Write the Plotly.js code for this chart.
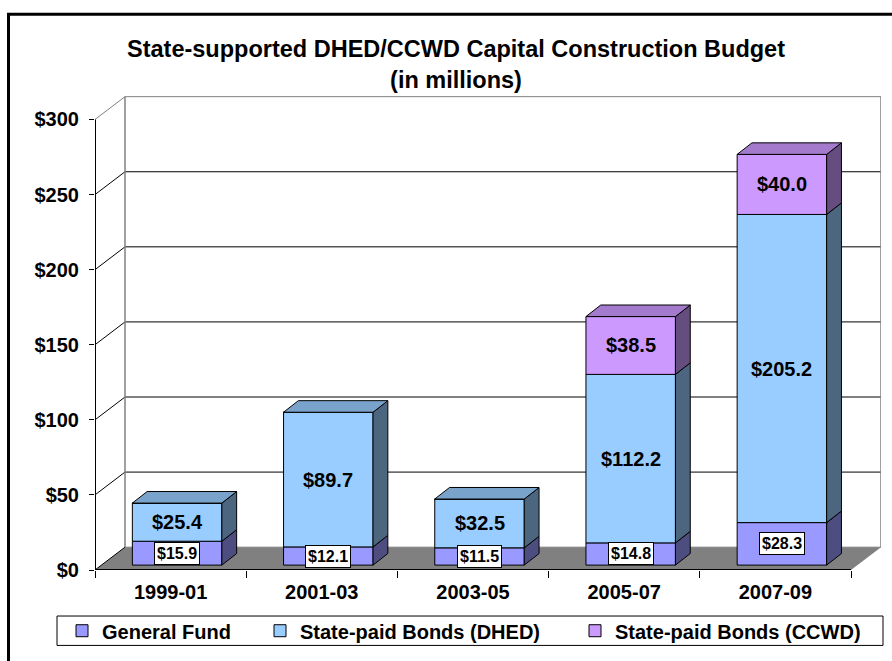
<!DOCTYPE html>
<html><head><meta charset="utf-8">
<script src="https://cdn.plot.ly/plotly-3.0.1.min.js"></script>
<style>html,body{margin:0;padding:0;background:#fff;} #chart{width:892px;height:661px;}</style>
</head><body><div id="chart"></div>
<script>
// ---- data ----
const categories = ['1999-01', '2001-03', '2003-05', '2005-07', '2007-09'];
const generalFund = [15.9, 12.1, 11.5, 14.8, 28.3];
const bondsDHED = [25.4, 89.7, 32.5, 112.2, 205.2];
const bondsCCWD = [0, 0, 0, 38.5, 40.0];
const seriesNames = ['General Fund', 'State-paid Bonds (DHED)', 'State-paid Bonds (CCWD)'];
const yTickValues = [0, 50, 100, 150, 200, 250, 300];
const yTickLabels = ['$0', '$50', '$100', '$150', '$200', '$250', '$300'];
const chartTitle = 'State-supported DHED/CCWD Capital Construction Budget<br>(in millions)';

// ---- geometry (pixels converted to axis units) ----
const W = 892, H = 661, L = 95, R = 11, T = 95, B = 81;
const plotW = W - L - R, plotH = H - T - B;
const catPx = 151.2, yPx = 460 / 300;
const dx = p => p / catPx, dy = p => p / yPx;
const xRange = [-0.5, -0.5 + plotW / catPx];
const yRange = [0, plotH / yPx];
const barW = dx(89.5), barShift = dx(6.5), barLift = dy(5);
const depthX = dx(14.8), depthY = dy(11.8);
const wallX = dx(30), wallY = dy(23.3);
const FONT = 'Liberation Sans, Arial, Helvetica, sans-serif';
const pxX = p => (p - L) / plotW;
const pxY = p => (H - B - p) / plotH;

const frontColors = ['#9999FF', '#99CCFF', '#CC99FF'];
const sideColors = ['#4D4D80', '#4D6680', '#664D80'];
const topColors = ['#7A7ACC', '#7AA3CC', '#A37ACC'];

const series = [generalFund, bondsDHED, bondsCCWD];
const xIdx = categories.map((c, i) => i);
const bases = series.map((s, k) => s.map((v, i) => barLift + series.slice(0, k).reduce((a, ss) => a + ss[i], 0)));
const nCat = categories.length;
const lastEdge = nCat - 0.5;

// ---- front faces: bars ----
const traces = series.map((s, k) => ({
  type: 'bar', x: xIdx, y: s, base: bases[k], width: barW, offset: -barW / 2 + barShift,
  name: seriesNames[k], legend: k === 0 ? 'legend' : 'legend' + (k + 1),
  marker: { color: frontColors[k], line: { color: '#000', width: 1 } },
  hoverinfo: 'skip', textposition: 'none'
}));

// ---- side faces ----
series.forEach((s, k) => {
  const xs = [], ys = [];
  s.forEach((v, i) => {
    if (!v) return;
    const xr = i - barW / 2 + barShift + barW, b = bases[k][i], t = b + v;
    xs.push(xr, xr + depthX, xr + depthX, xr, xr, null);
    ys.push(b, b + depthY, t + depthY, t, b, null);
  });
  traces.push({ type: 'scatter', mode: 'lines', x: xs, y: ys, fill: 'toself', fillcolor: sideColors[k],
    line: { color: '#000', width: 1 }, showlegend: false, hoverinfo: 'skip' });
});
// ---- top faces ----
series.forEach((s, k) => {
  const xs = [], ys = [];
  xIdx.forEach(i => {
    let topK = -1;
    series.forEach((ss, kk) => { if (ss[i] > 0) topK = kk; });
    if (topK !== k) return;
    const xl = i - barW / 2 + barShift, t = bases[k][i] + s[i];
    xs.push(xl, xl + barW, xl + barW + depthX, xl + depthX, xl, null);
    ys.push(t, t, t + depthY, t + depthY, t, null);
  });
  if (xs.length) traces.push({ type: 'scatter', mode: 'lines', x: xs, y: ys, fill: 'toself', fillcolor: topColors[k],
    line: { color: '#000', width: 1 }, showlegend: false, hoverinfo: 'skip' });
});

// ---- walls, floor, grid ----
const shapes = [];
shapes.push({ type: 'path', layer: 'below', xref: 'x', yref: 'y',
  path: `M${-0.5},0 L${lastEdge},0 L${lastEdge + wallX},${wallY} L${-0.5 + wallX},${wallY} Z`,
  fillcolor: '#808080', line: { width: 0 } });
yTickValues.forEach((v, j) => {
  const isTop = j === yTickValues.length - 1;
  const col = isTop ? '#808080' : '#000';
  shapes.push({ type: 'line', layer: 'below', xref: 'x', yref: 'y', x0: -0.5 + wallX, x1: lastEdge + wallX,
    y0: v + wallY, y1: v + wallY, line: { color: v === 0 ? '#808080' : col, width: 1 } });
  shapes.push({ type: 'line', layer: 'below', xref: 'x', yref: 'y', x0: -0.5, x1: -0.5 + wallX,
    y0: v, y1: v + wallY, line: { color: col, width: 1 } });
});
const yMax = yTickValues[yTickValues.length - 1];
[-0.5 + wallX, lastEdge + wallX].forEach(xw => shapes.push({ type: 'line', layer: 'below', xref: 'x', yref: 'y',
  x0: xw, x1: xw, y0: wallY, y1: yMax + wallY, line: { color: '#808080', width: 1.5 } }));
// front axis lines
shapes.push({ type: 'line', layer: 'below', xref: 'x', yref: 'y', x0: -0.5, x1: -0.5, y0: 0, y1: yMax, line: { color: '#000', width: 2 } });
shapes.push({ type: 'line', layer: 'below', xref: 'x', yref: 'y', x0: -0.5, x1: lastEdge, y0: 0, y1: 0, line: { color: '#000', width: 2 } });
// legend box and outer border
shapes.push({ type: 'rect', xref: 'paper', yref: 'paper', x0: pxX(57), x1: pxX(883), y0: pxY(627), y1: pxY(657),
  line: { color: '#000', width: 1 }, fillcolor: 'rgba(0,0,0,0)' });
shapes.push({ type: 'rect', xref: 'paper', yref: 'paper', x0: pxX(8.5), x1: pxX(905), y0: pxY(12.5), y1: pxY(680),
  line: { color: '#000', width: 3 }, fillcolor: 'rgba(0,0,0,0)' });

// ---- labels ----
const annotations = [];
series.forEach((s, k) => s.forEach((v, i) => {
  if (!v) return;
  const a = { x: i + barShift, y: bases[k][i] + v / 2, xref: 'x', yref: 'y', showarrow: false,
    text: '$' + v.toFixed(1) };
  if (k === 0) {
    Object.assign(a, { font: { family: FONT, size: 16, color: '#000', weight: 'bold' },
      bgcolor: '#fff', bordercolor: '#000', borderwidth: 1, borderpad: 2 });
  } else {
    a.font = { family: FONT, size: 20, color: '#000', weight: 'bold' };
  }
  annotations.push(a);
}));

const legendBase = { orientation: 'h', xanchor: 'left', yanchor: 'middle', y: pxY(642),
  bgcolor: 'rgba(0,0,0,0)', borderwidth: 0, font: { family: FONT, size: 20, color: '#000', weight: 'bold' } };

const layout = {
  width: W, height: H, margin: { l: L, r: R, t: T, b: B, pad: 0 },
  paper_bgcolor: '#fff', plot_bgcolor: '#fff', barmode: 'overlay', showlegend: true,
  font: { family: FONT, color: '#000' },
  title: { text: chartTitle, font: { family: FONT, size: 23.5, color: '#000', weight: 'bold' },
    x: 456 / W, xref: 'container', xanchor: 'center', y: 1 - 57 / H, yref: 'container', yanchor: 'top' },
  xaxis: { type: 'linear', range: xRange, tickmode: 'array', tickvals: xIdx, ticktext: categories, ticks: '',
    showgrid: false, zeroline: false, showline: false, fixedrange: true,
    tickfont: { family: FONT, size: 20, color: '#000', weight: 'bold' }, ticklabelstandoff: 8,
    minor: { tickmode: 'array', tickvals: xIdx.map(i => i - 0.5).concat([lastEdge]), ticks: 'outside', ticklen: 7,
      tickcolor: '#000', tickwidth: 1, showgrid: false } },
  yaxis: { range: yRange, tickmode: 'array', tickvals: yTickValues, ticktext: yTickLabels, ticks: 'outside', ticklen: 5,
    tickcolor: '#000', showgrid: false, zeroline: false, showline: false, fixedrange: true,
    tickfont: { family: FONT, size: 20, color: '#000', weight: 'bold' }, ticklabelstandoff: 6 },
  legend: Object.assign({}, legendBase, { x: pxX(62) }),
  legend2: Object.assign({}, legendBase, { x: pxX(260) }),
  legend3: Object.assign({}, legendBase, { x: pxX(575) }),
  shapes: shapes, annotations: annotations
};

Plotly.newPlot('chart', traces, layout, { staticPlot: true, displayModeBar: false });
</script>
</body></html>
